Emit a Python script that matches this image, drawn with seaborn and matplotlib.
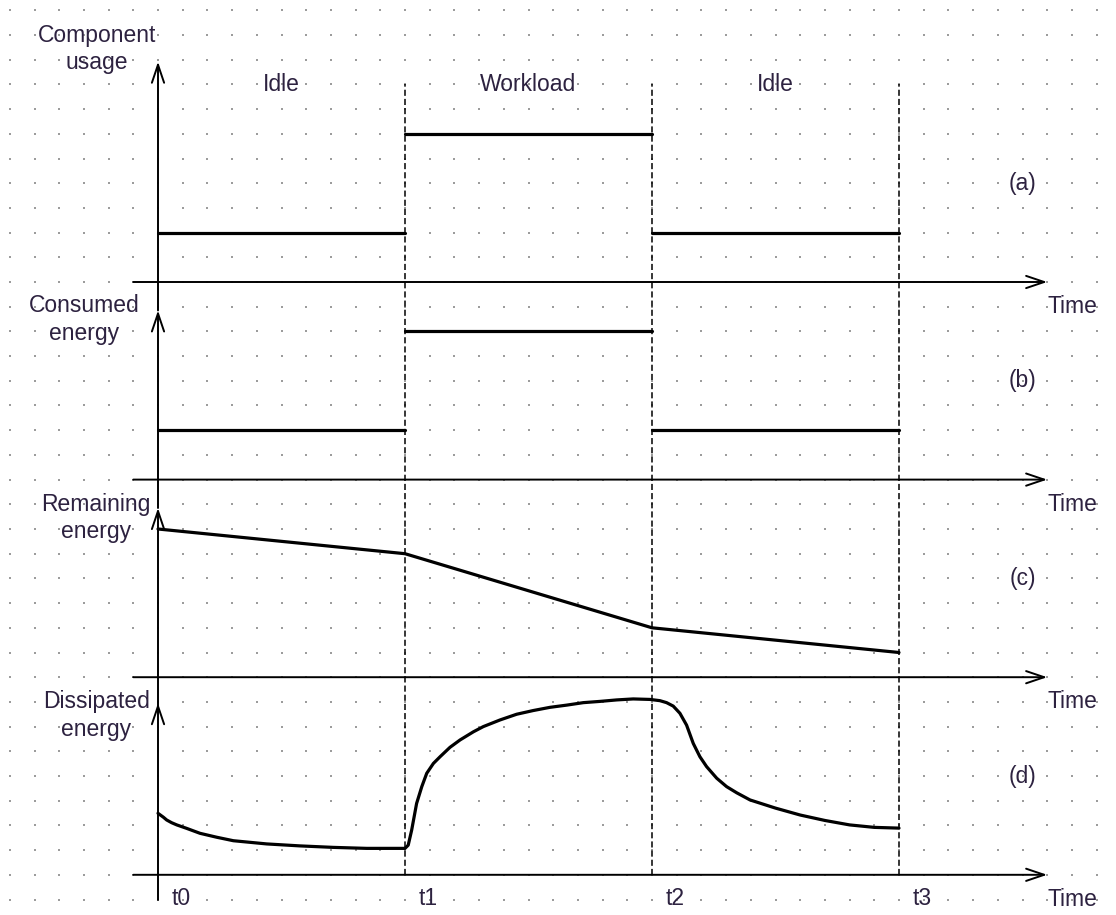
import numpy as np
import pandas as pd
import matplotlib
matplotlib.use("Agg")
import matplotlib.pyplot as plt
import seaborn as sns

# ---------------- data ----------------
time_marks = [0, 1, 2, 3]
time_labels = ["t0", "t1", "t2", "t3"]
phase_names = ["Idle", "Workload", "Idle"]
phase_centers = [0.5, 1.5, 2.5]

usage_levels = [2, 6, 2]          # (a) component usage per phase
consumed_levels = [2, 6, 2]       # (b) consumed energy per phase

remaining_time = [0, 1, 2, 3]     # (c) remaining energy
remaining_values = [6, 5, 2, 1]

dissipated_time = [0.0, 0.022, 0.035, 0.055, 0.076, 0.116, 0.17, 0.238, 0.305,
                   0.44, 0.575, 0.71, 0.845, 1.0, 1.013, 1.027, 1.047, 1.068,
                   1.088, 1.115, 1.142, 1.182, 1.223, 1.277, 1.317, 1.385, 1.452,
                   1.519, 1.587, 1.655, 1.722, 1.789, 1.857, 1.924, 1.992, 2.032,
                   2.059, 2.086, 2.113, 2.14, 2.167, 2.194, 2.221, 2.262, 2.302,
                   2.343, 2.397, 2.5, 2.6, 2.7, 2.8, 2.9, 3.0]
dissipated_values = [2.49, 2.33, 2.22, 2.11, 2.02, 1.88, 1.68, 1.52, 1.38,
                     1.25, 1.17, 1.11, 1.07, 1.07, 1.2, 1.81, 2.89, 3.57,
                     4.11, 4.51, 4.78, 5.16, 5.46, 5.79, 6.0, 6.27, 6.5,
                     6.65, 6.78, 6.87, 6.97, 7.02, 7.08, 7.12, 7.1, 7.05,
                     6.97, 6.83, 6.54, 6.06, 5.32, 4.78, 4.38, 3.91, 3.57,
                     3.32, 3.03, 2.7, 2.42, 2.2, 2.02, 1.92, 1.89]

panel_titles = ["Component\nusage", "Consumed\nenergy", "Remaining\nenergy", "Dissipated\nenergy"]
panel_tags = ["(a)", "(b)", "(c)", "(d)"]
axis_name = "Time"

# ---------------- style ----------------
sns.set_theme(style="white")
plt.rcParams["font.family"] = ["Liberation Sans", "DejaVu Sans"]
TXT = "#2d2240"
FS = 16.5

W, H = 1116, 915
G = 24.7          # pixels per grid cell (vertical data unit)
X0 = 158          # pixel position of t0
PT = 247          # pixels per time unit
BASE = [282 + 8 * G * i for i in range(4)]   # pixel rows of the four time axes

fig = plt.figure(figsize=(W / 100, H / 100), dpi=100)
fig.patch.set_facecolor("white")
xlim = (-X0 / PT, (W - X0) / PT)

# background grid of dots + dashed phase boundaries
bg = fig.add_axes([0, 0, 1, 1])
bg.set_xlim(*xlim)
bg.set_ylim(-(H - BASE[3]) / G, BASE[3] / G)
bg.axis("off")
gx, gy = np.meshgrid(np.arange(-6, 39) * 0.1, np.arange(-1, 36))
bg.scatter(gx.ravel(), gy.ravel(), s=1.5, marker="s", c="#9c9c9c", linewidths=0, zorder=0)
bg.vlines(time_marks[1:], 0, 32, colors="black", linestyles=(0, (4, 2)), lw=1.1, zorder=1)
for t, lab in zip(time_marks, time_labels):
    bg.text(t + 0.057, -0.95, lab, ha="left", va="center", fontsize=FS, color=TXT)

arrow_kw = dict(arrowstyle="->,head_length=0.65,head_width=0.22", lw=1.4,
                color="black", shrinkA=0, shrinkB=0, mutation_scale=20)

series = []
# (a) and (b): step levels per phase, drawn as separate segments
for levels in (usage_levels, consumed_levels):
    seg_t, seg_v, seg_id = [], [], []
    for k, lv in enumerate(levels):
        seg_t += [time_marks[k], time_marks[k + 1]]
        seg_v += [lv, lv]
        seg_id += [k, k]
    series.append(pd.DataFrame({"time": seg_t, "value": seg_v, "seg": seg_id}))
series.append(pd.DataFrame({"time": remaining_time, "value": remaining_values,
                            "seg": 0}))
series.append(pd.DataFrame({"time": dissipated_time, "value": dissipated_values,
                            "seg": 0}))

y_tips = [8.92, 6.85, 6.85, 6.95]
y_bottoms = [-1.15, -1.15, -1.15, -1.02]
title_pos = [(-0.247, 9.43), (-0.30, 6.48), (-0.25, 6.44), (-0.25, 6.44)]

for i in range(4):
    ax = fig.add_axes([0, (H - BASE[i]) / H, 1, 8 * G / H])
    ax.patch.set_alpha(0)
    sns.lineplot(data=series[i], x="time", y="value", units="seg", estimator=None,
                 color="black", lw=2.3, ax=ax, legend=False, sort=False)
    for ln in ax.lines:
        ln.set_solid_joinstyle("round")
    ax.set_xlim(*xlim)
    ax.set_ylim(0, 8)
    ax.axis("off")
    # axes with arrows
    ax.annotate("", xy=(0, y_tips[i]), xytext=(0, y_bottoms[i]),
                arrowprops=arrow_kw, annotation_clip=False)
    ax.annotate("", xy=(3.6, 0), xytext=(-0.1, 0),
                arrowprops=arrow_kw, annotation_clip=False)
    ax.text(3.6, -1, axis_name, ha="left", va="center", fontsize=FS, color=TXT)
    ax.text(3.5, 4, panel_tags[i], ha="center", va="center", fontsize=FS, color=TXT)
    tx, ty = title_pos[i]
    ax.text(tx, ty, panel_titles[i], ha="center", va="center", fontsize=FS,
            color=TXT, linespacing=1.25)
    if i == 0:
        for c, name in zip(phase_centers, phase_names):
            ax.text(c, 8, name, ha="center", va="center", fontsize=FS, color=TXT)

fig.savefig("out.png", dpi=100, facecolor="white")
